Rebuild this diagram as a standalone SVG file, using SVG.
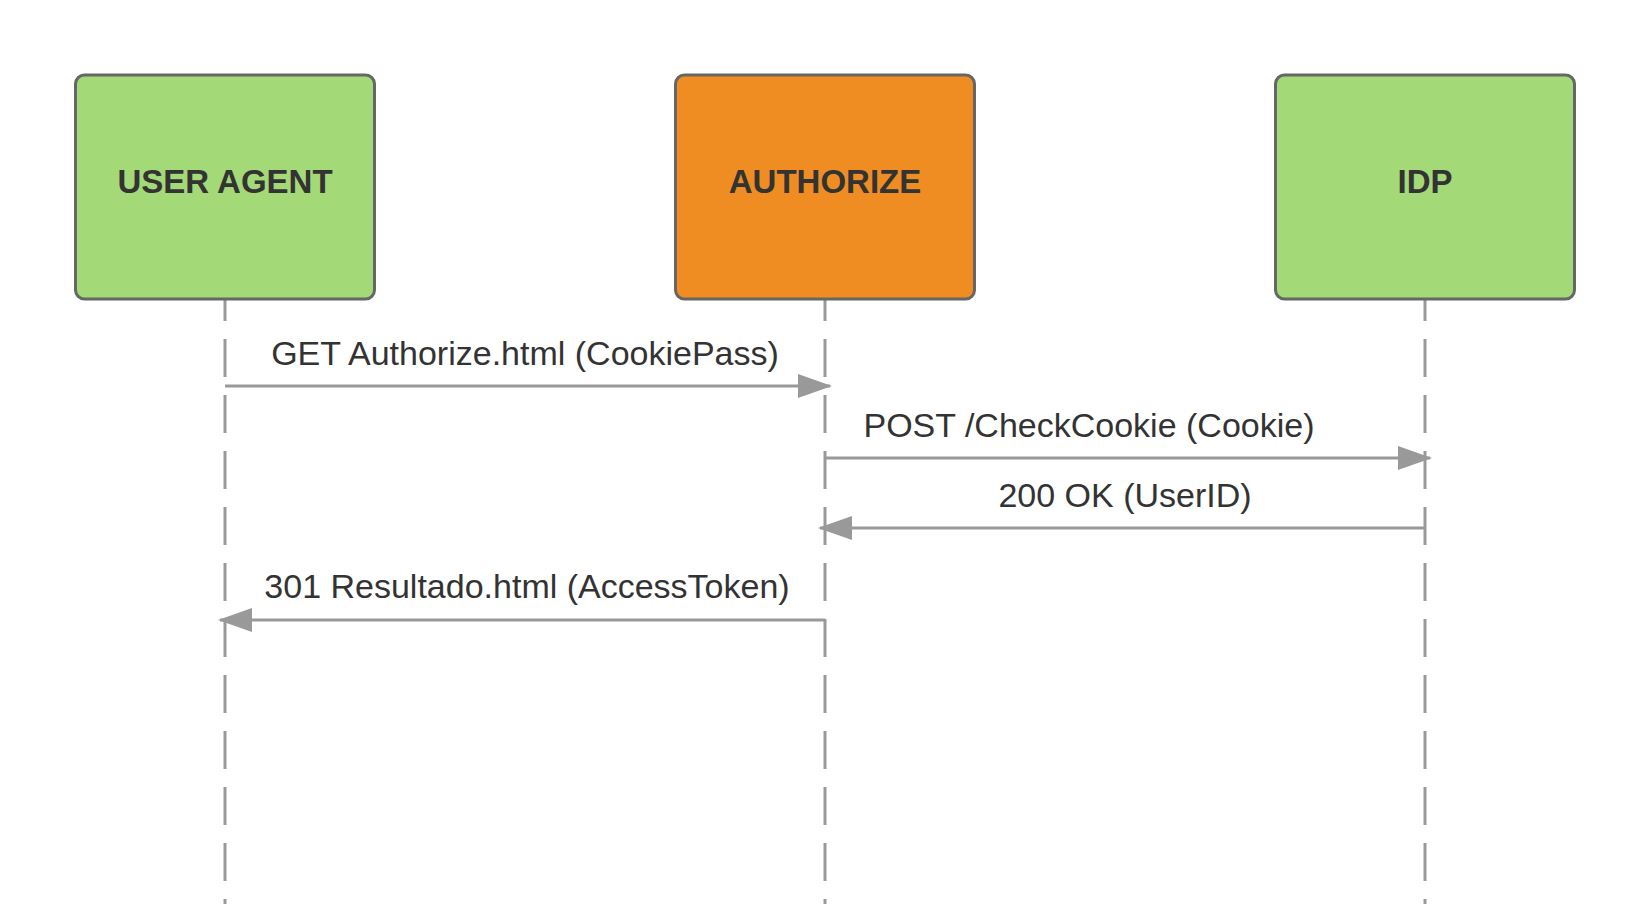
<svg xmlns="http://www.w3.org/2000/svg" width="1648" height="904" viewBox="0 0 1648 904">
<defs>
<style>
.box{stroke:#666666;stroke-width:3}
.title{font-family:"Liberation Sans",Arial,sans-serif;font-weight:bold;font-size:33px;fill:#333333;text-anchor:middle}
.life{stroke:#999999;stroke-width:3;stroke-dasharray:38 18;stroke-dashoffset:17;fill:none}
.msg{stroke:#999999;stroke-width:3;fill:none}
.lbl{font-family:"Liberation Sans",Arial,sans-serif;font-size:34px;fill:#333333;text-anchor:middle}
</style>
<marker id="ah" markerWidth="34" markerHeight="24" refX="32" refY="12" orient="auto" markerUnits="userSpaceOnUse">
<path d="M0,0 L34,12 L0,24 Z" fill="#999999"/>
</marker>
</defs>
<rect width="1648" height="904" fill="#ffffff"/>
<g id="lifelines">
<line class="life" x1="225" y1="300" x2="225" y2="904"/>
<line class="life" x1="825" y1="300" x2="825" y2="904"/>
<line class="life" x1="1425" y1="300" x2="1425" y2="904"/>
</g>
<g id="user-agent">
<rect class="box" x="75.5" y="75" width="299" height="224" rx="9" fill="#A3D977"/>
<text class="title" x="225" y="193">USER AGENT</text>
</g>
<g id="authorize">
<rect class="box" x="675.5" y="75" width="299" height="224" rx="9" fill="#EF8D22"/>
<text class="title" x="825" y="193">AUTHORIZE</text>
</g>
<g id="idp">
<rect class="box" x="1275.5" y="75" width="299" height="224" rx="9" fill="#A3D977"/>
<text class="title" x="1425" y="193">IDP</text>
</g>
<g id="connectors">
<line class="msg" x1="225" y1="386" x2="830" y2="386" marker-end="url(#ah)"/>
<text class="lbl" x="525" y="365">GET Authorize.html (CookiePass)</text>
<line class="msg" x1="825" y1="458" x2="1430" y2="458" marker-end="url(#ah)"/>
<text class="lbl" x="1089" y="437">POST /CheckCookie (Cookie)</text>
<line class="msg" x1="1425" y1="528" x2="820" y2="528" marker-end="url(#ah)"/>
<text class="lbl" x="1125" y="507">200 OK (UserID)</text>
<path class="msg" d="M825,620 L220,620" marker-end="url(#ah)"/>
<text class="lbl" x="527" y="598">301 Resultado.html (AccessToken)</text>
</g>
</svg>
